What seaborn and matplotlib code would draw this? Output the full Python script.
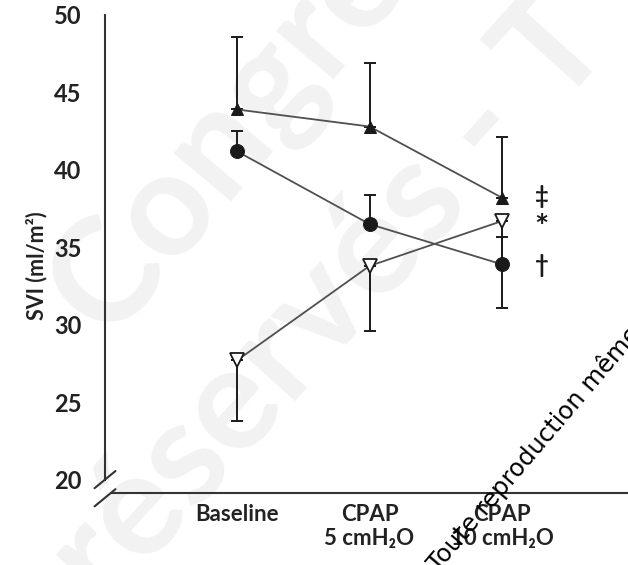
import numpy as np
import pandas as pd
import matplotlib
matplotlib.use("Agg")
import matplotlib.pyplot as plt
import seaborn as sns

# values
conditions = ['Baseline', 'CPAP\n5 cmH₂O', 'CPAP\n10 cmH₂O']
tri_up_mean = [43.9, 42.8, 38.2]
tri_up_sd = [4.65, 4.1, 3.95]        # drawn upward
circle_mean = [41.2, 36.5, 33.9]
circle_sd = [1.3, 1.9, 1.75]         # drawn upward
tri_down_mean = [27.7, 33.8, 36.7]
tri_down_sd = [3.9, 4.2, 5.6]        # drawn downward
y_ticks = [20, 25, 30, 35, 40, 45, 50]
sig_marks = ['‡', '*', '†']
sig_y = [38.3, 36.2, 33.8]

sns.set_style("white")
fam = ['Lato', 'DejaVu Sans']
plt.rcParams['font.family'] = fam

fig = plt.figure(figsize=(6.28, 5.65), dpi=100)

# faint background watermark (behind the axes)
fig.text(250 / 628, 1 - 110 / 565, 'Congrès', fontsize=105, color='#f2f2f2',
         rotation=50, ha='center', va='center', fontweight='bold', zorder=0)
fig.text(330 / 628, 1 - 300 / 565, 'réservés - T', fontsize=105, color='#f2f2f2',
         rotation=48, ha='center', va='center', fontweight='bold', zorder=0)

ax = fig.add_axes([105 / 628, 72 / 565, 523 / 628, 478 / 565])
ax.set_facecolor('none')
ax.set_zorder(1)

x = np.arange(len(conditions))
df = pd.DataFrame({'x': x, 'up': tri_up_mean, 'circ': circle_mean, 'down': tri_down_mean})

line_col = '#505050'
ink = '#1a1a1a'

# error bars (one-sided)
ax.errorbar(x, tri_up_mean, yerr=[np.zeros(3), tri_up_sd], fmt='none',
            ecolor=ink, elinewidth=1.4, capsize=4, capthick=1.4, zorder=2)
ax.errorbar(x, circle_mean, yerr=[np.zeros(3), circle_sd], fmt='none',
            ecolor=ink, elinewidth=1.4, capsize=4, capthick=1.4, zorder=2)
ax.errorbar(x, tri_down_mean, yerr=[tri_down_sd, np.zeros(3)], fmt='none',
            ecolor=ink, elinewidth=1.4, capsize=4, capthick=1.4, zorder=2)

sns.lineplot(data=df, x='x', y='up', ax=ax, color=line_col, linewidth=1.3,
             marker='^', markersize=9, markerfacecolor=ink, markeredgecolor=ink, zorder=3)
sns.lineplot(data=df, x='x', y='circ', ax=ax, color=line_col, linewidth=1.3,
             marker='o', markersize=10, markerfacecolor=ink, markeredgecolor=ink, zorder=3)
sns.lineplot(data=df, x='x', y='down', ax=ax, color=line_col, linewidth=1.3,
             marker='v', markersize=10, markerfacecolor='white', markeredgecolor=ink,
             markeredgewidth=1.3, zorder=4)

for m, yy in zip(sig_marks, sig_y):
    fs = 24 if m == '*' else 17
    ax.text(2.3, yy, m, ha='center', va='center', fontsize=fs, fontweight='bold', color=ink)

ax.set_xlim(-0.996, 2.95)
ax.set_ylim(19.14, 50)
ax.set_yticks(y_ticks)
ax.set_xticks(x)
ax.set_xticklabels(conditions, fontsize=16, fontweight='bold', color='#222222',
                   linespacing=1.15)
ax.tick_params(axis='y', direction='in', length=8, width=1.3, color=ink, pad=17,
               labelsize=17, labelcolor='#222222')
ax.tick_params(axis='x', length=0, pad=8)
for lab in ax.get_yticklabels():
    lab.set_fontweight('bold')
ax.set_xlabel('')
ax.set_ylabel('SVI (ml/m²)', fontsize=15.5, fontweight='bold', color='#222222')
ax.yaxis.set_label_coords(-0.11, 0.475)

sns.despine(ax=ax)
ax.spines['left'].set_bounds(20, 50)
ax.spines['bottom'].set_bounds(-0.94, 2.95)
for s in ['left', 'bottom']:
    ax.spines[s].set_linewidth(1.5)
    ax.spines[s].set_color('#333333')

# axis break marks
for y0 in (0.028, -0.01):
    ax.plot([-0.02, 0.02], [y0 - 0.018, y0 + 0.018], transform=ax.transAxes,
            color='#333333', lw=1.5, clip_on=False)

# foreground watermark
fig.text(438 / 628, -8 / 565, 'Toute reproduction même partielle interdite',
         fontsize=17.5, color='black', rotation=49.5, rotation_mode='anchor',
         ha='left', va='baseline', family=['DejaVu Sans'], zorder=5)

fig.savefig('out.png', dpi=100)
